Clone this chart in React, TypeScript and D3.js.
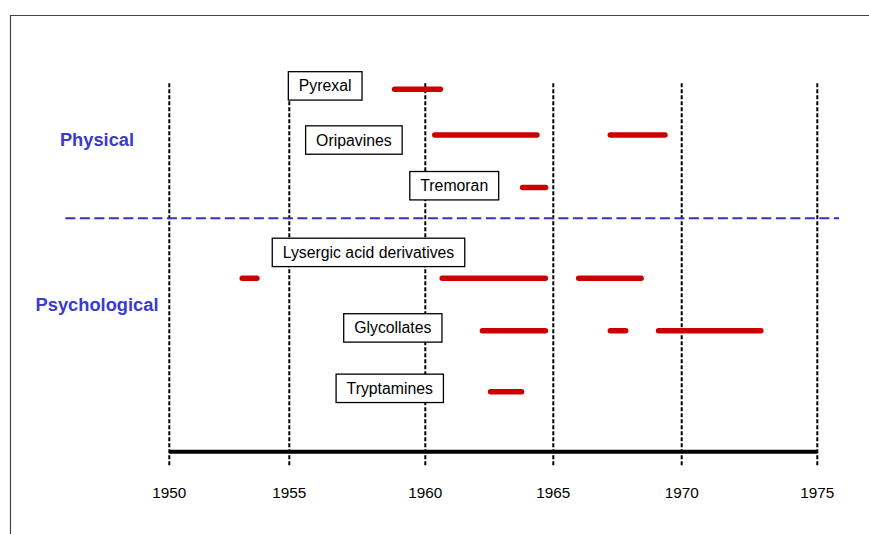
import { useEffect, useRef } from 'react'
import * as d3 from 'd3'

interface Row {
  name: string
  level: number // line position (0 = axis, 100 = top of grid)
  labelLevel: number
  labelYear: number // left edge of label box
  spans: [number, number][]
}

const years = [1950, 1955, 1960, 1965, 1970, 1975]
const yearPixels = [169.3, 289.3, 425.3, 553.3, 681.7, 817.3]

const groups = [
  { name: 'Physical', level: 84.6 },
  { name: 'Psychological', level: 39.8 }
]
const dividerLevel = 63.4

const rows: Row[] = [
  { name: 'Pyrexal', level: 98.4, labelLevel: 99.3, labelYear: 1954.96, spans: [[1958.87, 1960.59]] },
  { name: 'Oripavines', level: 86.0, labelLevel: 84.6, labelYear: 1955.6, spans: [[1960.37, 1964.36], [1967.22, 1969.35]] },
  { name: 'Tremoran', level: 71.7, labelLevel: 72.2, labelYear: 1959.43, spans: [[1963.8, 1964.7]] },
  { name: 'Lysergic acid derivatives', level: 47.1, labelLevel: 54.1, labelYear: 1954.29, spans: [[1953.04, 1953.65], [1960.66, 1964.69], [1965.99, 1968.42]] },
  { name: 'Glycollates', level: 32.8, labelLevel: 33.6, labelYear: 1957.0, spans: [[1962.23, 1964.69], [1967.22, 1967.82], [1969.1, 1972.92]] },
  { name: 'Tryptamines', level: 16.3, labelLevel: 17.2, labelYear: 1956.72, spans: [[1962.55, 1963.76]] }
]

export default function App() {
  const svgRef = useRef<SVGSVGElement>(null)

  useEffect(() => {
    if (!svgRef.current) return
    const width = 869
    const height = 534
    const svg = d3.select(svgRef.current)
    svg.selectAll('*').remove()
    svg.attr('width', width).attr('height', height)

    const font = 'Arial, "Liberation Sans", sans-serif'

    const x = d3.scaleLinear().domain(years).range(yearPixels)
    const y = d3.scaleLinear().domain([0, 100]).range([451.7, 83.3])

    // frame
    svg.append('path')
      .attr('d', `M 10.5 ${height} L 10.5 15.5 L ${width} 15.5`)
      .attr('fill', 'none')
      .attr('stroke', '#444')
      .attr('stroke-width', 1.2)

    // year grid lines
    svg.selectAll('.grid')
      .data(years)
      .enter()
      .append('line')
      .attr('x1', d => x(d))
      .attr('x2', d => x(d))
      .attr('y1', y(100))
      .attr('y2', y(-4.2))
      .attr('stroke', '#000')
      .attr('stroke-width', 2)
      .attr('stroke-dasharray', '4,2')

    // axis
    svg.append('line')
      .attr('x1', x(1950))
      .attr('x2', x(1975))
      .attr('y1', y(0))
      .attr('y2', y(0))
      .attr('stroke', '#000')
      .attr('stroke-width', 4)

    svg.selectAll('.tick')
      .data(years)
      .enter()
      .append('text')
      .attr('x', d => x(d))
      .attr('y', 498.3)
      .attr('text-anchor', 'middle')
      .attr('font-family', font)
      .attr('font-size', 15.3)
      .attr('fill', '#000')
      .text(d => d)

    // divider
    svg.append('line')
      .attr('x1', x(1945.67))
      .attr('x2', x(1975.8))
      .attr('y1', y(dividerLevel))
      .attr('y2', y(dividerLevel))
      .attr('stroke', '#3333cc')
      .attr('stroke-width', 2)
      .attr('stroke-dasharray', '10,4.5')

    // group titles
    svg.selectAll('.group')
      .data(groups)
      .enter()
      .append('text')
      .attr('x', 97)
      .attr('y', d => y(d.level))
      .attr('dy', '0.35em')
      .attr('text-anchor', 'middle')
      .attr('font-family', font)
      .attr('font-weight', 'bold')
      .attr('font-size', 18.3)
      .attr('fill', '#3a3acc')
      .text(d => d.name)

    // red spans
    const segs = rows.flatMap(r => r.spans.map(s => ({ level: r.level, s })))
    svg.selectAll('.span')
      .data(segs)
      .enter()
      .append('line')
      .attr('x1', d => x(d.s[0]))
      .attr('x2', d => x(d.s[1]))
      .attr('y1', d => y(d.level))
      .attr('y2', d => y(d.level))
      .attr('stroke', '#cc0000')
      .attr('stroke-width', 5.5)
      .attr('stroke-linecap', 'round')

    // label boxes
    rows.forEach(r => {
      const g = svg.append('g')
      const rect = g.append('rect')
      const t = g.append('text')
        .attr('font-family', font)
        .attr('font-size', 15.8)
        .attr('fill', '#000')
        .attr('dy', '0.35em')
        .text(r.name)
      const tw = (t.node() as SVGTextElement).getComputedTextLength()
      const pad = 10.5
      const x0 = x(r.labelYear)
      const cy = y(r.labelLevel)
      t.attr('x', x0 + pad).attr('y', cy)
      rect
        .attr('x', x0)
        .attr('y', cy - 14.2)
        .attr('width', tw + pad * 2)
        .attr('height', 28.4)
        .attr('fill', '#fff')
        .attr('stroke', '#000')
        .attr('stroke-width', 1.3)
    })
  }, [])

  return (
    <div style={{ position: 'absolute', left: 0, top: 0 }}>
      <svg ref={svgRef} style={{ display: 'block' }} />
    </div>
  )
}
